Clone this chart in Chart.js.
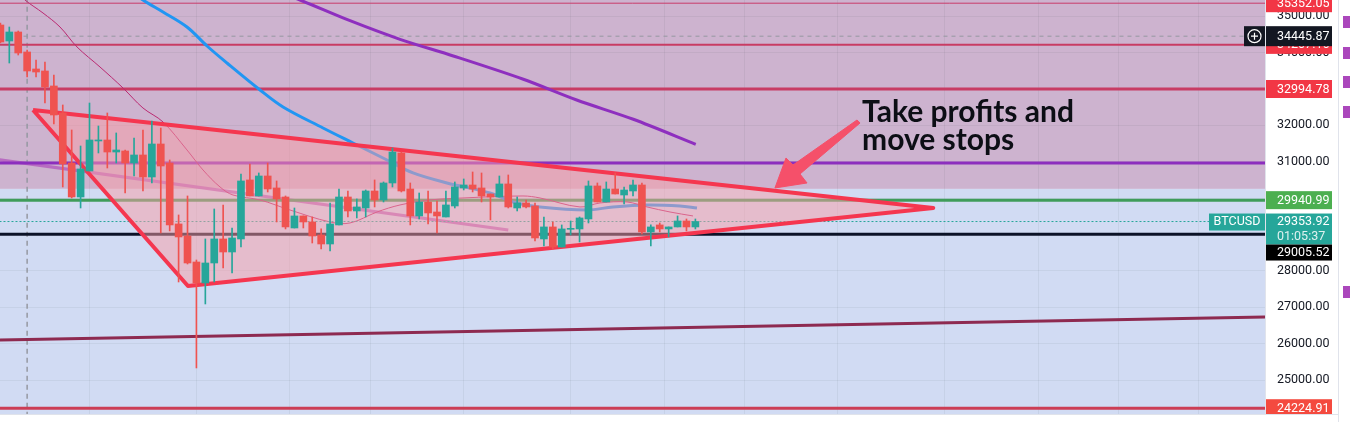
<!DOCTYPE html>
<html>
<head>
<meta charset="utf-8">
<script src="https://cdn.jsdelivr.net/npm/chart.js@4.4.1/dist/chart.umd.min.js"></script>
<style>
  html, body { margin: 0; padding: 0; background: #fff; }
  canvas { display: block; }
</style>
</head>
<body>
<canvas id="chart" width="1350" height="422"></canvas>
<script>
// BTCUSD diario: velas + dibujos (triángulo, niveles, medias)

// ── Velas (una por sesión, índice = posición) ────────────────────────
const CANDLE_OPEN  = [34753,34314,34561,34012,33545,33490,33078,32336,30962,30028,30743,31567,31594,31264,31292,30962,31182,30578,31484,30962,
                      29287,28957,28242,27666,28215,28875,28517,28875,30496,30056,30605,30276,30028,29177,29507,29342,28985,28737,29260,30028,
                      29644,29726,30193,29946,30413,31237,30248,29507,29891,29616,29479,29781,30276,30358,30276,30111,30028,30386,29726,29864,
                      29781,28875,29205,28654,29140,29150,29424,30331,29891,30248,30083,30193,30358,29067,29260,29150,29205,29369,29205];
const CANDLE_HIGH  = [34808,34698,34588,34066,33792,33737,33380,32556,31869,31429,32610,31979,32336,31787,31319,31649,31869,32116,31924,31045,
                      29534,30056,28297,28875,29699,29809,29177,30660,30935,30688,30962,30468,30056,29726,29507,29479,29150,29864,30248,30193,
                      29974,30221,30496,30441,31374,31264,30413,30138,30193,29919,30193,30441,30523,30715,30688,30111,30605,30633,30028,29946,
                      29864,29479,29342,29260,29369,29479,30468,30413,30441,30688,30303,30496,30413,29260,29314,29205,29507,29424,29424];
const CANDLE_LOW   = [34259,33709,33929,33325,33325,32610,32034,30303,30001,29726,30743,31237,30825,30962,30138,30605,30193,30413,29040,29095,
                      27693,28187,25331,27089,27693,28078,27940,28654,30056,30056,30166,29342,29150,29177,29177,28764,28599,28545,29260,29479,
                      29452,29479,29754,29891,30303,30166,29260,29424,29287,29040,29479,29726,30221,30166,29891,29397,30028,29726,29644,29726,
                      28820,28682,28599,28654,28985,28792,29314,29891,29891,30111,29836,30056,29012,28682,29067,28930,29205,29095,29150];
const CANDLE_CLOSE = [34286,34561,33984,33490,33462,33050,32281,30935,30028,30798,31594,31594,31264,31319,30962,31182,30578,31484,30880,29260,
                      28930,28215,27666,28215,28875,28517,28902,30468,30056,30605,30248,29974,29205,29507,29342,28957,28737,29287,30028,29644,
                      29754,30193,29946,30413,31264,30193,29507,29891,29589,29507,29809,30303,30358,30248,30056,30028,30386,29754,29864,29754,
                      28902,29205,28654,29150,29150,29452,30331,29891,30248,30111,30221,30358,29067,29205,29150,29205,29369,29205,29354];

// ── Medias móviles [índice, precio] ──────────────────────────────────
const MA_THIN   = [[1.98,35660],[2.76,35440],[4.78,35083],[6.69,34698],[8.6,34149],[11.18,33599],[13.76,33023],[16,32473],[18.25,32089],
                   [20.94,31320],[22.74,30770],[24.65,30303],[26.1,30083],[29.14,29946],[32.5,29671],[36.99,29342],[39.24,29314],[42.27,29616],
                   [44.85,29809],[48.22,29946],[51.92,30001],[58.65,30056],[60.56,30001],[65.05,29754],[67.3,29864],[70.33,29891],[72.57,29754],
                   [75.15,29616],[77.73,29507]];
const MA_BLUE   = [[14.88,35660],[16,35440],[18.25,35110],[20.94,34698],[23.19,34176],[25.43,33709],[29.14,32968],[31.72,32501],[36.21,31924],
                   [39.57,31512],[43.39,31045],[46.31,30688],[50.12,30413],[54.95,30138],[57.53,29891],[60.56,29754],[65.83,29671],[68.75,29754],
                   [72.57,29809],[76.27,29781],[78.18,29726]];
const MA_PURPLE = [[30.3,35742],[33.63,35440],[39.24,34871],[44.85,34360],[50.83,33902],[58.69,33262],[64.68,32693],[71.03,32163],[78.04,31476]];

// ── Niveles horizontales y líneas de tendencia ──────────────────────
const LEVEL_TOP      = 35352.05;
const LEVEL_CROSS    = 34445.87;
const LEVEL_RES1     = 34207.16;
const LEVEL_RES2     = 32994.78;
const LEVEL_PURPLE   = 30962;
const LEVEL_GREEN    = 29940.99;
const LEVEL_LAST     = 29353.92;
const LEVEL_BLACK    = 29005.52;
const LEVEL_BOTTOM   = 24224.91;
const TREND_LAVENDER = [[-1,31080],[57,29122]];
const TREND_MAROON   = [[-1,26096],[143,26736]];
const TRIANGLE       = [[3.66,32418],[21.05,27583],[104.7,29726],[3.66,32418]];
const ARROW          = [[86.93,30276],[88.17,31100],[88.96,30907],[96.14,32144],[96.48,32061],[89.74,30660],[90.53,30413],[86.93,30276]];
const CROSS_X        = 3;
const ZONE_SPLIT     = 30250;

// ── Ejes ─────────────────────────────────────────────────────────────
const Y_TICKS = [25000,26000,27000,28000,29000,30000,31000,32000,33000,34000,35000];
const X_GRID  = [4,16,28,37,46,58,70,79,88,100,112,121,130];

const TEAL = '#26a69a', RED = '#ef5350';
const AXIS_FONT = "Roboto, 'Noto Sans', sans-serif";

const pts   = arr => arr.map(([x, y]) => ({ x, y }));
const hline = p => [{ x: -1, y: p }, { x: 143, y: p }];
const upDown = CANDLE_CLOSE.map((c, i) => c >= CANDLE_OPEN[i] ? TEAL : RED);

function line(data, color, width, extra = {}) {
  return Object.assign({
    type: 'line', data, borderColor: color, borderWidth: width,
    pointRadius: 0, fill: false, tension: 0, clip: 0, order: 4
  }, extra);
}

// ── Fondo de zonas (rectángulos de TradingView) ─────────────────────
const zonePlugin = {
  id: 'zones',
  beforeDraw(chart) {
    const { ctx, chartArea: a, scales: { y } } = chart;
    const ys = y.getPixelForValue(ZONE_SPLIT);
    ctx.save();
    ctx.fillStyle = '#cdb3cf';
    ctx.fillRect(a.left, a.top, a.right - a.left, ys - a.top);
    ctx.fillStyle = '#d1dbf3';
    ctx.fillRect(a.left, ys, a.right - a.left, a.bottom - ys);
    ctx.restore();
  }
};

// ── Texto de la nota ────────────────────────────────────────────────
const notePlugin = {
  id: 'note',
  afterDatasetsDraw(chart) {
    const { ctx, scales: { x, y } } = chart;
    const px = x.getPixelForValue(96.7);
    ctx.save();
    ctx.fillStyle = '#0c0e15';
    ctx.font = "bold 30px Lato, 'Open Sans', sans-serif";
    ctx.textBaseline = 'alphabetic';
    ctx.fillText('Take profits and', px, y.getPixelForValue(32090));
    ctx.fillText('move stops', px, y.getPixelForValue(31320));
    ctx.restore();
  }
};

// ── Etiquetas de precio en el eje derecho ───────────────────────────
const badgePlugin = {
  id: 'badges',
  afterDraw(chart) {
    const { ctx, chartArea: a, scales: { y } } = chart;
    const bx = a.right + 1, bw = 66, tx = a.right + 12;
    ctx.save();
    ctx.beginPath();
    ctx.rect(0, 0, chart.width, a.bottom);
    ctx.clip();
    ctx.font = `12.5px ${AXIS_FONT}`;
    ctx.textBaseline = 'middle';

    function badge(yc, h, color, text) {
      ctx.fillStyle = color;
      ctx.fillRect(bx, yc - h / 2, bw, h);
      ctx.fillStyle = '#fff';
      ctx.textAlign = 'left';
      ctx.fillText(text, tx, yc + 0.5);
    }
    const yp = p => y.getPixelForValue(p);

    badge(yp(LEVEL_TOP), 18, '#f23645', LEVEL_TOP.toFixed(2));
    badge(yp(LEVEL_RES1), 18, '#f23645', LEVEL_RES1.toFixed(2));
    badge(yp(LEVEL_CROSS), 20, '#131722', LEVEL_CROSS.toFixed(2));
    badge(yp(LEVEL_RES2), 18, '#f23645', LEVEL_RES2.toFixed(2));
    badge(yp(LEVEL_GREEN), 18, '#4caf50', LEVEL_GREEN.toFixed(2));
    badge(yp(LEVEL_BOTTOM), 18, '#f44a3f', LEVEL_BOTTOM.toFixed(2));

    // precio actual + cuenta atrás
    const yl = yp(LEVEL_LAST);
    ctx.fillStyle = TEAL;
    ctx.fillRect(bx, yl - 8, bw, 31);
    ctx.fillStyle = '#fff';
    ctx.fillText(LEVEL_LAST.toFixed(2), tx, yl + 0.5);
    ctx.fillStyle = 'rgba(255,255,255,0.85)';
    ctx.fillText('01:05:37', tx, yl + 15);
    // desplazada bajo la anterior
    ctx.fillStyle = '#000';
    ctx.fillRect(bx, yl + 23, bw, 16);
    ctx.fillStyle = '#fff';
    ctx.fillText(LEVEL_BLACK.toFixed(2), tx, yl + 31.5);

    // etiqueta del símbolo
    ctx.fillStyle = TEAL;
    ctx.fillRect(a.right - 56, yl - 8, 56, 17);
    ctx.fillStyle = '#fff';
    ctx.textAlign = 'center';
    ctx.fillText('BTCUSD', a.right - 28, yl + 0.5);

    // botón "+" del cursor
    const yc = yp(LEVEL_CROSS);
    ctx.fillStyle = '#131722';
    ctx.fillRect(a.right - 21, yc - 10, 21, 20);
    ctx.strokeStyle = '#fff';
    ctx.lineWidth = 1.2;
    ctx.beginPath(); ctx.arc(a.right - 10.5, yc, 6.5, 0, Math.PI * 2); ctx.stroke();
    ctx.beginPath();
    ctx.moveTo(a.right - 14, yc); ctx.lineTo(a.right - 7, yc);
    ctx.moveTo(a.right - 10.5, yc - 3.5); ctx.lineTo(a.right - 10.5, yc + 3.5);
    ctx.stroke();
    ctx.restore();

    // panel lateral
    ctx.save();
    ctx.fillStyle = '#e0e3eb';
    ctx.fillRect(1338, 0, 1, chart.height);
    ctx.fillRect(0, a.bottom, 1338, 1);
    ctx.fillStyle = '#ab47bc';
    [16, 47, 76, 106, 286].forEach(t => ctx.fillRect(1343, t, 7, 12));
    ctx.restore();
  }
};

new Chart(document.getElementById('chart'), {
  type: 'bar',
  data: {
    datasets: [
      {
        label: 'cuerpos', order: 0, grouped: false, barThickness: 7, minBarLength: 1,
        data: CANDLE_OPEN.map((o, i) => ({ x: i, y: [o, CANDLE_CLOSE[i]] })),
        backgroundColor: upDown, borderWidth: 0
      },
      {
        label: 'mechas', order: 1, grouped: false, barThickness: 1,
        data: CANDLE_LOW.map((l, i) => ({ x: i, y: [l, CANDLE_HIGH[i]] })),
        backgroundColor: upDown, borderWidth: 0
      },
      line(pts(ARROW), '#f5506a', 1, { fill: 'shape', backgroundColor: '#f5506a', order: 0, borderJoinStyle: 'miter' }),
      line(pts(TRIANGLE), '#f5364f', 4, { fill: 'shape', backgroundColor: 'rgba(250,158,166,0.5)', order: 2, borderJoinStyle: 'round' }),
      line(hline(LEVEL_LAST), TEAL, 1, { borderDash: [2, 2], order: 3 }),
      line(pts(MA_THIN), '#bb2a72', 1, { tension: 0.35, order: 3 }),
      line(pts(MA_BLUE), '#2196f3', 3, { tension: 0.35, order: 3 }),
      line(pts(MA_PURPLE), '#8e2fbf', 3, { tension: 0.3, order: 3 }),
      line(hline(LEVEL_TOP), '#c83c6a', 1),
      line(hline(LEVEL_RES1), '#c83c64', 2),
      line(hline(LEVEL_RES2), '#c83c64', 3),
      line(hline(LEVEL_PURPLE), '#8c2ebe', 3),
      line(hline(LEVEL_GREEN), '#3f9c5a', 3),
      line(hline(LEVEL_BLACK), '#0b1227', 3),
      line(hline(LEVEL_BOTTOM), '#cc3d55', 3),
      line(pts(TREND_LAVENDER), 'rgba(180,95,190,0.85)', 3),
      line(pts(TREND_MAROON), '#8e2a50', 3),
      line(hline(LEVEL_CROSS), '#9598a1', 1, { borderDash: [4, 4], order: 5 }),
      line([{ x: CROSS_X, y: 23000 }, { x: CROSS_X, y: 36000 }], '#9598a1', 1.5, { borderDash: [5, 4], order: 5 })
    ]
  },
  options: {
    responsive: false,
    animation: false,
    events: [],
    layout: { padding: { left: 0, top: 0, right: 12, bottom: 8 } },
    plugins: { legend: { display: false }, tooltip: { enabled: false } },
    scales: {
      x: {
        type: 'linear', min: -0.045, max: 141.93, offset: false,
        afterBuildTicks: s => { s.ticks = X_GRID.map(v => ({ value: v })); },
        ticks: { display: false },
        grid: { color: 'rgba(42,46,57,0.06)', drawTicks: false },
        border: { display: false },
        afterFit: s => { s.height = 0; s.paddingLeft = 0; s.paddingRight = 0; }
      },
      y: {
        position: 'right', min: 24066, max: 35440,
        afterBuildTicks: s => { s.ticks = Y_TICKS.map(v => ({ value: v })); },
        ticks: { color: '#131722', padding: 12, font: { family: AXIS_FONT, size: 12.5 }, callback: v => v.toFixed(2) },
        grid: { color: 'rgba(42,46,57,0.06)', drawTicks: false },
        border: { color: '#e0e3eb' },
        afterFit: s => { s.width = 73; s.paddingTop = 0; s.paddingBottom = 0; }
      }
    }
  },
  plugins: [zonePlugin, notePlugin, badgePlugin]
});
</script>
</body>
</html>
